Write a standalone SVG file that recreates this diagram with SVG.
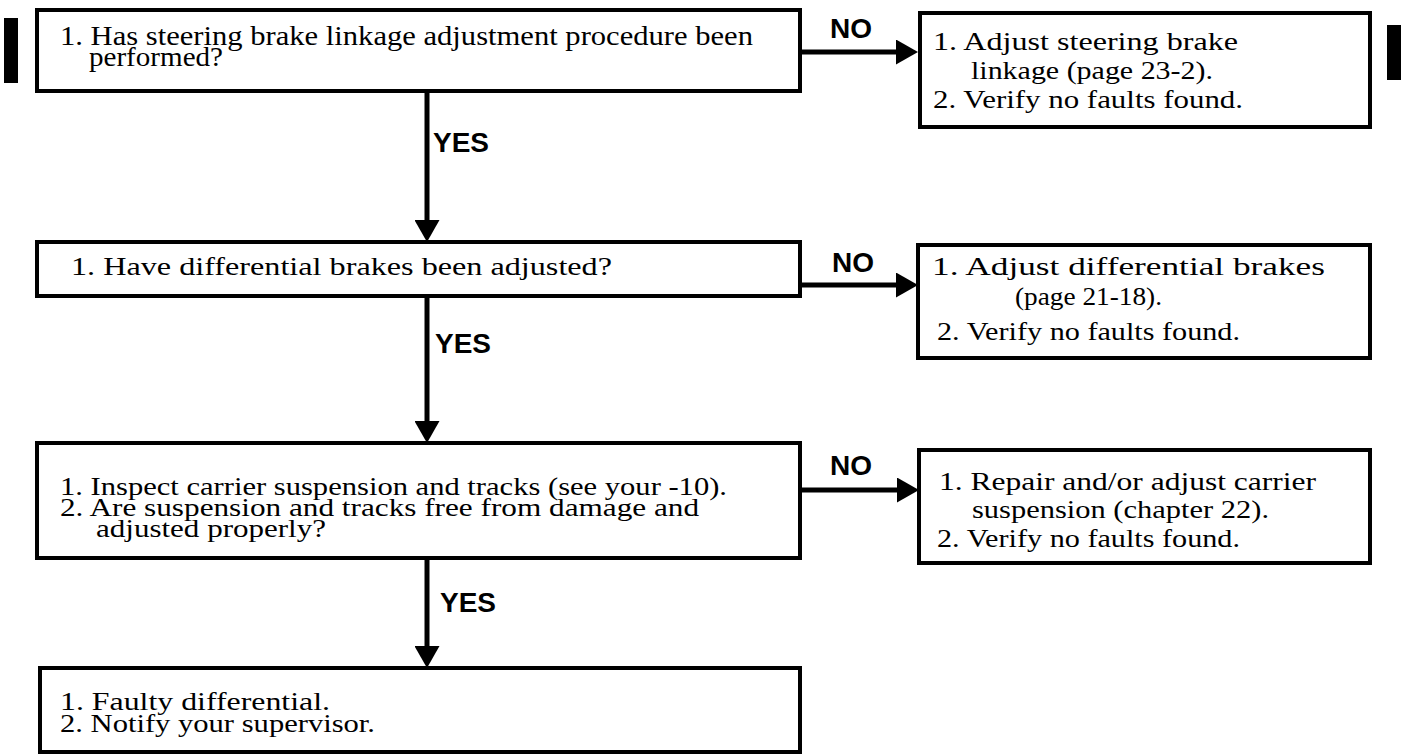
<svg xmlns="http://www.w3.org/2000/svg" width="1403" height="755" viewBox="0 0 1403 755">
<style>
.box{fill:#fff;stroke:#000;stroke-width:4}
.bar{fill:#000}
.t{font-family:"Liberation Serif","Times New Roman",serif;font-size:26px;fill:#000}
.t1{font-size:27px}
.lbl{font-family:"Liberation Sans",Arial,sans-serif;font-weight:bold;font-size:28px;fill:#000}
.conn{stroke:#000;stroke-width:5;fill:none;marker-end:url(#arrow)}
</style>
<defs>
<marker id="arrow" viewBox="0 0 22 25" refX="2" refY="12.5" markerWidth="22" markerHeight="25" markerUnits="userSpaceOnUse" orient="auto">
<path d="M0,0 L22,12.5 L0,25 z" fill="#000"/>
</marker>
</defs>
<g id="changebars">
<rect class="bar" x="4" y="18" width="14" height="65"/>
<rect class="bar" x="1387" y="25" width="14" height="55"/>
</g>
<g id="connectors">
<line class="conn" x1="800" y1="52" x2="898" y2="52"/>
<line class="conn" x1="427" y1="92" x2="427" y2="222"/>
<line class="conn" x1="800" y1="285" x2="898" y2="285"/>
<line class="conn" x1="427" y1="296" x2="427" y2="423"/>
<line class="conn" x1="800" y1="490" x2="899" y2="490"/>
<line class="conn" x1="427" y1="558" x2="427" y2="648"/>
<text class="lbl" x="830" y="38">NO</text>
<text class="lbl" x="433" y="152">YES</text>
<text class="lbl" x="832" y="272">NO</text>
<text class="lbl" x="435" y="353">YES</text>
<text class="lbl" x="830" y="475">NO</text>
<text class="lbl" x="440" y="612">YES</text>
</g>
<g id="q1">
<rect class="box" x="37" y="10" width="763" height="81"/>
<text class="t t1" x="60" y="45" textLength="693" lengthAdjust="spacingAndGlyphs">1. Has steering brake linkage adjustment procedure been</text>
<text class="t t1" x="89" y="66" textLength="134" lengthAdjust="spacingAndGlyphs">performed?</text>
</g>
<g id="a1">
<rect class="box" x="920" y="13" width="450" height="114"/>
<text class="t" x="933" y="50" textLength="305" lengthAdjust="spacingAndGlyphs">1. Adjust steering brake</text>
<text class="t" x="971" y="79" textLength="242" lengthAdjust="spacingAndGlyphs">linkage (page 23-2).</text>
<text class="t" x="933" y="108" textLength="310" lengthAdjust="spacingAndGlyphs">2. Verify no faults found.</text>
</g>
<g id="q2">
<rect class="box" x="37" y="242" width="763" height="54"/>
<text class="t" x="71" y="275" textLength="541" lengthAdjust="spacingAndGlyphs">1. Have differential brakes been adjusted?</text>
</g>
<g id="a2">
<rect class="box" x="918" y="245" width="452" height="113"/>
<text class="t" x="932" y="275" textLength="393" lengthAdjust="spacingAndGlyphs">1. Adjust differential brakes</text>
<text class="t" x="1015" y="305" textLength="147" lengthAdjust="spacingAndGlyphs">(page 21-18).</text>
<text class="t" x="937" y="340" textLength="303" lengthAdjust="spacingAndGlyphs">2. Verify no faults found.</text>
</g>
<g id="q3">
<rect class="box" x="37" y="443" width="763" height="115"/>
<text class="t" x="60" y="495" textLength="667" lengthAdjust="spacingAndGlyphs">1. Inspect carrier suspension and tracks (see your -10).</text>
<text class="t" x="60" y="516" textLength="639" lengthAdjust="spacingAndGlyphs">2. Are suspension and tracks free from damage and</text>
<text class="t" x="96" y="537" textLength="230" lengthAdjust="spacingAndGlyphs">adjusted properly?</text>
</g>
<g id="a3">
<rect class="box" x="919" y="450" width="451" height="113"/>
<text class="t" x="939" y="490" textLength="377" lengthAdjust="spacingAndGlyphs">1. Repair and/or adjust carrier</text>
<text class="t" x="972" y="518" textLength="297" lengthAdjust="spacingAndGlyphs">suspension (chapter 22).</text>
<text class="t" x="937" y="547" textLength="303" lengthAdjust="spacingAndGlyphs">2. Verify no faults found.</text>
</g>
<g id="result">
<rect class="box" x="40" y="668" width="760" height="84"/>
<text class="t" x="60" y="710" textLength="270" lengthAdjust="spacingAndGlyphs">1. Faulty differential.</text>
<text class="t" x="60" y="732" textLength="315" lengthAdjust="spacingAndGlyphs">2. Notify your supervisor.</text>
</g>
</svg>
